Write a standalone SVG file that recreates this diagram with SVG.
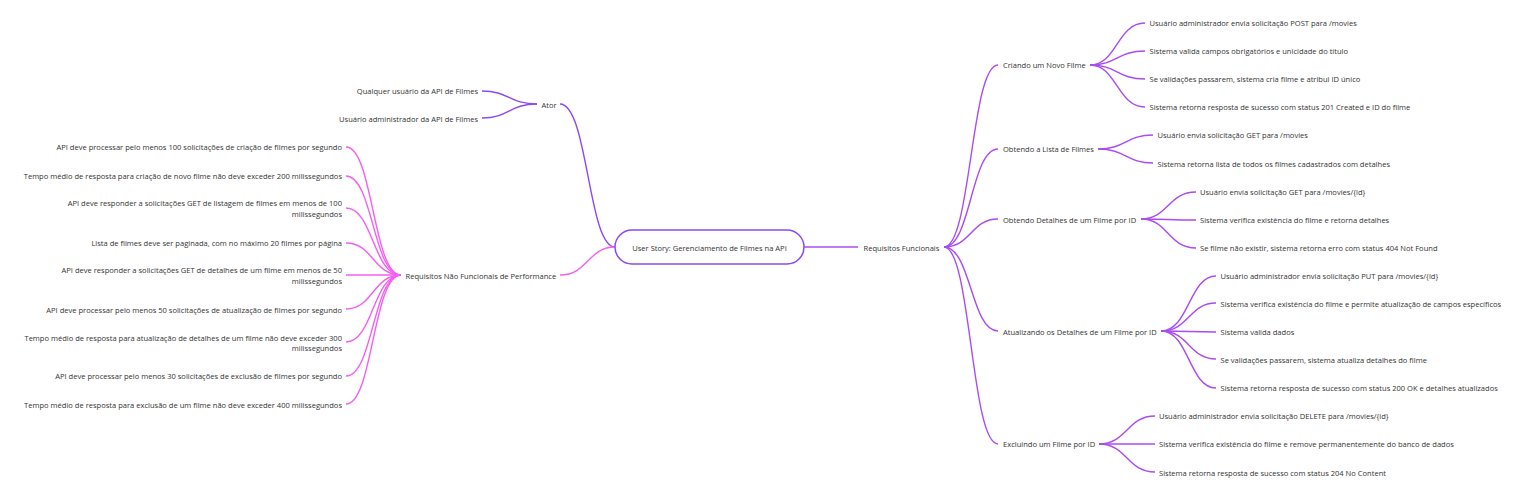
<svg xmlns="http://www.w3.org/2000/svg" width="1530" height="496" viewBox="0 0 1530 496">
<style>
text{font-family:"Open Sans","Noto Sans","Liberation Sans",sans-serif;font-size:7.55px;fill:#333;dominant-baseline:central}
.e{text-anchor:end}
.m{text-anchor:middle}
path{fill:none;stroke-width:1.4}
.a{stroke:#8a4af3}
.n{stroke:#f35ff0}
.f{stroke:#a94cf0}
</style>
<rect width="1530" height="496" fill="#fff"/>
<g id="connectors">
<path class="a" d="M560,104 C588,104 588,247 615,247"/>
<path class="a" d="M482,91 C509,91 509,104 537,104"/>
<path class="a" d="M482,118 C509,118 509,104 537,104"/>
<path class="n" d="M560,275 C588,275 588,247 615,247"/>
<path class="n" d="M346,147 C373,147 373,275 401,275"/>
<path class="n" d="M346,176 C373,176 373,275 401,275"/>
<path class="n" d="M346,208 C373,208 373,275 401,275"/>
<path class="n" d="M346,243 C373,243 373,275 401,275"/>
<path class="n" d="M346,275 C373,275 373,275 401,275"/>
<path class="n" d="M346,309 C373,309 373,275 401,275"/>
<path class="n" d="M346,342 C373,342 373,275 401,275"/>
<path class="n" d="M346,376 C373,376 373,275 401,275"/>
<path class="n" d="M346,404 C373,404 373,275 401,275"/>
<path class="f" d="M804,247 L858,247"/>
<path class="f" d="M944,247 C971,247 971,65 998,65"/>
<path class="f" d="M944,247 C971,247 971,149 998,149"/>
<path class="f" d="M944,247 C971,247 971,219 998,219"/>
<path class="f" d="M944,247 C971,247 971,331 998,331"/>
<path class="f" d="M944,247 C971,247 971,444 998,444"/>
<path class="f" d="M1090,65 C1117,65 1117,23 1145,23"/>
<path class="f" d="M1090,65 C1117,65 1117,51 1145,51"/>
<path class="f" d="M1090,65 C1117,65 1117,79 1145,79"/>
<path class="f" d="M1090,65 C1117,65 1117,107 1145,107"/>
<path class="f" d="M1098,149 C1126,149 1126,135 1153,135"/>
<path class="f" d="M1098,149 C1126,149 1126,163 1153,163"/>
<path class="f" d="M1141,219 C1168,219 1168,192 1196,192"/>
<path class="f" d="M1141,219 C1168,219 1168,220 1196,220"/>
<path class="f" d="M1141,219 C1168,219 1168,248 1196,248"/>
<path class="f" d="M1161,331 C1189,331 1189,276 1216,276"/>
<path class="f" d="M1161,331 C1189,331 1189,303 1216,303"/>
<path class="f" d="M1161,331 C1189,331 1189,332 1216,332"/>
<path class="f" d="M1161,331 C1189,331 1189,359 1216,359"/>
<path class="f" d="M1161,331 C1189,331 1189,388 1216,388"/>
<path class="f" d="M1099,444 C1127,444 1127,416 1155,416"/>
<path class="f" d="M1099,444 C1127,444 1127,444 1155,444"/>
<path class="f" d="M1099,444 C1127,444 1127,472 1155,472"/>
</g>
<g id="root">
<rect x="615" y="230" width="189" height="34" rx="17" fill="#fff" stroke="#8a4af3" stroke-width="1.5"/>
<text class="m" x="709.5" y="247.5">User Story: Gerenciamento de Filmes na API</text>
</g>
<g id="ator"><text x="541.5" y="104.5">Ator</text></g>
<g id="ator-1"><text class="e" x="478" y="91">Qualquer usuário da API de Filmes</text></g>
<g id="ator-2"><text class="e" x="478" y="118.5">Usuário administrador da API de Filmes</text></g>
<g id="nfr"><text x="405.5" y="275.5">Requisitos Não Funcionais de Performance</text></g>
<g id="nfr-1"><text class="e" x="342" y="147">API deve processar pelo menos 100 solicitações de criação de filmes por segundo</text></g>
<g id="nfr-2"><text class="e" x="342" y="176">Tempo médio de resposta para criação de novo filme não deve exceder 200 milissegundos</text></g>
<g id="nfr-3"><text class="e" x="342" y="203">API deve responder a solicitações GET de listagem de filmes em menos de 100</text><text class="e" x="342" y="214">milissegundos</text></g>
<g id="nfr-4"><text class="e" x="342" y="243">Lista de filmes deve ser paginada, com no máximo 20 filmes por página</text></g>
<g id="nfr-5"><text class="e" x="342" y="269.5">API deve responder a solicitações GET de detalhes de um filme em menos de 50</text><text class="e" x="342" y="281">milissegundos</text></g>
<g id="nfr-6"><text class="e" x="342" y="309.5">API deve processar pelo menos 50 solicitações de atualização de filmes por segundo</text></g>
<g id="nfr-7"><text class="e" x="342" y="337.5">Tempo médio de resposta para atualização de detalhes de um filme não deve exceder 300</text><text class="e" x="342" y="348">milissegundos</text></g>
<g id="nfr-8"><text class="e" x="342" y="376">API deve processar pelo menos 30 solicitações de exclusão de filmes por segundo</text></g>
<g id="nfr-9"><text class="e" x="342" y="404.5">Tempo médio de resposta para exclusão de um filme não deve exceder 400 milissegundos</text></g>
<g id="rf"><text x="863.5" y="247.5">Requisitos Funcionais</text></g>
<g id="rf-1"><text x="1003" y="65">Criando um Novo Filme</text></g>
<g id="rf-1-1"><text x="1149.5" y="23">Usuário administrador envia solicitação POST para /movies</text></g>
<g id="rf-1-2"><text x="1149.5" y="51">Sistema valida campos obrigatórios e unicidade do título</text></g>
<g id="rf-1-3"><text x="1149.5" y="79">Se validações passarem, sistema cria filme e atribui ID único</text></g>
<g id="rf-1-4"><text x="1149.5" y="107">Sistema retorna resposta de sucesso com status 201 Created e ID do filme</text></g>
<g id="rf-2"><text x="1003" y="149">Obtendo a Lista de Filmes</text></g>
<g id="rf-2-1"><text x="1157.5" y="135">Usuário envia solicitação GET para /movies</text></g>
<g id="rf-2-2"><text x="1157.5" y="163.5">Sistema retorna lista de todos os filmes cadastrados com detalhes</text></g>
<g id="rf-3"><text x="1003" y="219.5">Obtendo Detalhes de um Filme por ID</text></g>
<g id="rf-3-1"><text x="1200" y="192">Usuário envia solicitação GET para /movies/{id}</text></g>
<g id="rf-3-2"><text x="1200" y="220">Sistema verifica existência do filme e retorna detalhes</text></g>
<g id="rf-3-3"><text x="1200" y="248">Se filme não existir, sistema retorna erro com status 404 Not Found</text></g>
<g id="rf-4"><text x="1003" y="331.5">Atualizando os Detalhes de um Filme por ID</text></g>
<g id="rf-4-1"><text x="1220.5" y="276">Usuário administrador envia solicitação PUT para /movies/{id}</text></g>
<g id="rf-4-2"><text x="1220.5" y="303.5">Sistema verifica existência do filme e permite atualização de campos específicos</text></g>
<g id="rf-4-3"><text x="1220.5" y="332">Sistema valida dados</text></g>
<g id="rf-4-4"><text x="1220.5" y="359.5">Se validações passarem, sistema atualiza detalhes do filme</text></g>
<g id="rf-4-5"><text x="1220.5" y="388">Sistema retorna resposta de sucesso com status 200 OK e detalhes atualizados</text></g>
<g id="rf-5"><text x="1003" y="444">Excluindo um Filme por ID</text></g>
<g id="rf-5-1"><text x="1159" y="416">Usuário administrador envia solicitação DELETE para /movies/{id}</text></g>
<g id="rf-5-2"><text x="1159" y="444">Sistema verifica existência do filme e remove permanentemente do banco de dados</text></g>
<g id="rf-5-3"><text x="1159" y="472.5">Sistema retorna resposta de sucesso com status 204 No Content</text></g>
</svg>
